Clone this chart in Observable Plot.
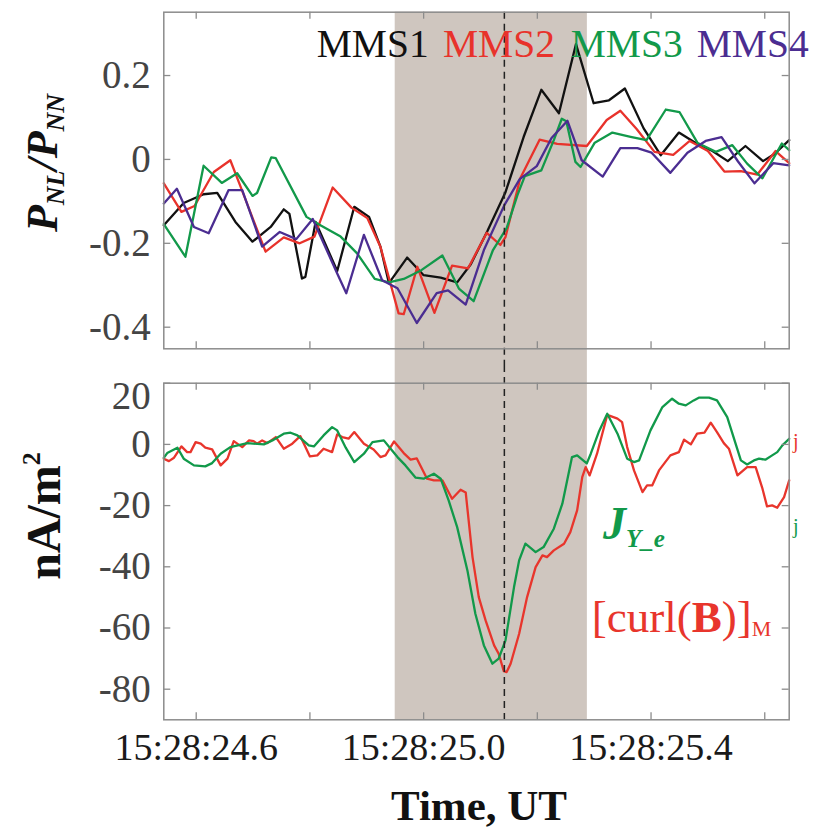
<!DOCTYPE html>
<html>
<head>
<meta charset="utf-8">
<script src="https://cdn.jsdelivr.net/npm/d3@7"></script>
<script src="https://cdn.jsdelivr.net/npm/@observablehq/plot@0.6"></script>
<style>
  body { margin: 0; background: #fff; }
  #chart { position: relative; width: 817px; height: 837px; overflow: hidden; background: #fff; }
  #chart svg { position: absolute; left: 0; }
</style>
</head>
<body>
<div id="chart"></div>
<script>
// Time axis: seconds after 15:28 UT
const X_DOMAIN = [24.543, 25.643];
const xTicks = [24.6, 24.8, 25.0, 25.2, 25.4, 25.6];
const xLabels = [24.6, 25.0, 25.4];
const shadeSpan = [24.950, 25.288];
const tRef = 25.142;

// Upper panel: P_NL / P_NN for the four spacecraft, [t, value]
const P_DOMAIN = [-0.4515, 0.351];
const pTicks = [0.2, 0, -0.2, -0.4];
const mms1 = [[24.543,-0.157],[24.578,-0.104],[24.613,-0.083],[24.637,-0.080],[24.669,-0.149],[24.699,-0.196],[24.731,-0.161],[24.754,-0.119],[24.764,-0.130],[24.786,-0.284],[24.792,-0.280],[24.810,-0.149],[24.848,-0.266],[24.878,-0.113],[24.904,-0.137],[24.924,-0.208],[24.939,-0.295],[24.971,-0.234],[25.000,-0.276],[25.030,-0.282],[25.059,-0.293],[25.083,-0.250],[25.112,-0.171],[25.144,-0.078],[25.176,0.054],[25.207,0.166],[25.238,0.110],[25.268,0.275],[25.299,0.134],[25.326,0.141],[25.354,0.169],[25.387,0.074],[25.417,0.010],[25.449,0.064],[25.475,0.042],[25.508,0.020],[25.535,-0.004],[25.566,0.032],[25.597,-0.004],[25.617,0.013],[25.643,0.046]];
const mms2 = [[24.543,-0.057],[24.574,-0.125],[24.597,-0.111],[24.631,-0.030],[24.660,-0.002],[24.678,-0.065],[24.722,-0.220],[24.754,-0.186],[24.782,-0.200],[24.808,-0.184],[24.840,-0.067],[24.873,-0.115],[24.901,-0.140],[24.924,-0.208],[24.956,-0.367],[24.965,-0.369],[24.989,-0.256],[25.019,-0.366],[25.050,-0.253],[25.078,-0.260],[25.111,-0.175],[25.135,-0.204],[25.144,-0.185],[25.170,-0.045],[25.204,0.047],[25.235,0.037],[25.287,0.032],[25.322,0.094],[25.346,0.116],[25.375,0.072],[25.406,0.018],[25.439,0.011],[25.468,0.044],[25.500,0.020],[25.529,-0.029],[25.558,-0.028],[25.587,-0.036],[25.619,0.020],[25.643,-0.009]];
const mms3 = [[24.543,-0.154],[24.581,-0.232],[24.613,-0.015],[24.645,-0.056],[24.672,-0.033],[24.699,-0.087],[24.707,-0.080],[24.732,0.005],[24.740,0.003],[24.794,-0.137],[24.820,-0.158],[24.854,-0.184],[24.883,-0.224],[24.914,-0.285],[24.939,-0.293],[24.965,-0.285],[24.996,-0.264],[25.033,-0.229],[25.062,-0.308],[25.088,-0.338],[25.122,-0.216],[25.146,-0.164],[25.165,-0.085],[25.178,-0.040],[25.207,-0.026],[25.229,0.046],[25.243,0.097],[25.251,0.091],[25.267,-0.006],[25.276,-0.018],[25.301,0.040],[25.332,0.064],[25.364,0.054],[25.392,0.046],[25.426,0.119],[25.450,0.113],[25.482,0.039],[25.514,0.018],[25.543,0.034],[25.569,-0.010],[25.596,-0.045],[25.630,0.038],[25.643,0.022]];
const mms4 = [[24.543,-0.105],[24.566,-0.070],[24.596,-0.161],[24.622,-0.176],[24.657,-0.073],[24.681,-0.073],[24.716,-0.208],[24.747,-0.173],[24.776,-0.190],[24.805,-0.142],[24.848,-0.272],[24.864,-0.319],[24.895,-0.180],[24.901,-0.200],[24.927,-0.288],[24.954,-0.307],[24.988,-0.390],[25.023,-0.319],[25.043,-0.312],[25.074,-0.346],[25.106,-0.216],[25.142,-0.109],[25.169,-0.047],[25.199,-0.016],[25.225,0.051],[25.253,0.092],[25.278,-0.002],[25.315,-0.041],[25.346,0.027],[25.376,0.027],[25.401,0.016],[25.434,-0.032],[25.464,0.016],[25.496,0.044],[25.524,0.053],[25.553,-0.005],[25.582,-0.057],[25.615,-0.009],[25.643,-0.014]];

// Lower panel: current density in nA/m^2, [t, value]
const J_DOMAIN = [-90, 20];
const jTicks = [20, 0, -20, -40, -60, -80];
const curlB = [[24.543,-4.67],[24.552,-5.46],[24.561,-4.35],[24.574,-0.65],[24.584,-2.52],[24.590,-2.52],[24.599,0.75],[24.608,0.23],[24.616,-1.08],[24.628,-1.63],[24.643,-6.86],[24.655,-4.67],[24.666,1.08],[24.681,-0.88],[24.693,1.31],[24.701,1.08],[24.707,0.23],[24.716,1.31],[24.725,0.42],[24.740,2.39],[24.754,-1.41],[24.769,0.23],[24.783,2.71],[24.800,-3.92],[24.813,-3.59],[24.824,-1.41],[24.839,-2.52],[24.848,3.27],[24.857,2.39],[24.868,1.86],[24.878,4.02],[24.895,0.23],[24.912,-1.63],[24.924,-4.15],[24.933,-3.59],[24.948,0.98],[24.965,-2.84],[24.977,-5.00],[24.988,-4.58],[25.006,-11.21],[25.018,-11.76],[25.033,-11.76],[25.050,-17.75],[25.065,-14.80],[25.074,-15.69],[25.086,-36.83],[25.097,-49.90],[25.109,-57.52],[25.124,-65.69],[25.132,-68.40],[25.141,-74.09],[25.146,-74.41],[25.153,-71.67],[25.168,-61.86],[25.182,-49.90],[25.197,-40.10],[25.209,-36.27],[25.217,-36.83],[25.229,-34.64],[25.247,-32.45],[25.258,-28.66],[25.270,-21.57],[25.279,-10.69],[25.285,-7.42],[25.292,-10.13],[25.305,-3.04],[25.323,9.64],[25.341,8.40],[25.349,7.29],[25.358,-0.88],[25.370,-8.50],[25.385,-15.59],[25.393,-13.40],[25.402,-13.40],[25.414,-8.50],[25.434,-3.59],[25.449,-2.52],[25.458,1.54],[25.470,0],[25.481,3.50],[25.494,3.82],[25.505,7.09],[25.516,4.02],[25.528,0.42],[25.537,-1.41],[25.552,-10.13],[25.569,-7.42],[25.584,-7.42],[25.596,-14.48],[25.604,-20.26],[25.613,-19.93],[25.622,-20.69],[25.634,-17.22],[25.643,-11.76]];
const jYe = [[24.543,-4.35],[24.549,-2.84],[24.567,-1.08],[24.578,-4.67],[24.596,-6.86],[24.616,-7.19],[24.628,-6.11],[24.643,-3.04],[24.660,-0.88],[24.690,0.42],[24.719,0],[24.734,1.31],[24.754,3.50],[24.766,3.82],[24.778,2.94],[24.798,-0.33],[24.807,-0.65],[24.824,2.94],[24.839,5.65],[24.848,4.58],[24.863,-1.08],[24.878,-5.78],[24.895,-3.04],[24.910,0.75],[24.930,1.31],[24.942,-1.41],[24.954,-4.15],[24.968,-6.86],[24.986,-10.88],[25.000,-11.21],[25.018,-9.58],[25.030,-11.21],[25.044,-18.30],[25.059,-27.03],[25.077,-41.18],[25.091,-55.33],[25.106,-65.69],[25.121,-71.67],[25.132,-70.03],[25.144,-64.05],[25.159,-46.63],[25.168,-37.91],[25.179,-32.45],[25.197,-35.20],[25.211,-33.56],[25.229,-27.55],[25.244,-19.38],[25.261,-4.15],[25.270,-3.59],[25.287,-6.21],[25.294,-3.04],[25.308,4.02],[25.323,10.03],[25.341,3.50],[25.358,-4.67],[25.370,-5.78],[25.379,-5.23],[25.399,4.58],[25.420,12.19],[25.437,14.93],[25.449,13.30],[25.461,12.75],[25.475,14.38],[25.484,15.26],[25.502,15.26],[25.516,14.38],[25.534,8.92],[25.558,-5.23],[25.569,-6.54],[25.581,-5.23],[25.590,-4.67],[25.601,-5.00],[25.613,-3.59],[25.622,-2.52],[25.631,-0.33],[25.643,1.86]];

const legendNames = ["MMS1", "MMS2", "MMS3", "MMS4"];
const scColors = ["#111111", "#e8322b", "#12994a", "#4b2d91"];

// Layout
const W = 817, ML = 163.3, MR = 28.3;
const TOP_H = 365, TOP_MT = 11.7, TOP_MB = 16.7;
const BOT_H = 472, BOT_MT = 17.7, BOT_MB = 117.7;
const PLOT_H = TOP_H - TOP_MT - TOP_MB;
const PLOT_W = W - ML - MR;
const TICK = 7;
const FRAME = "#8c8c8c";
const SHADE = "#cfc6bf";
const RED = "#e8352c", GREEN = "#11994a";
const LW = 2.3;
const serif = "'Liberation Serif', 'Times New Roman', serif";

const fmtP = d => d === 0 ? "0" : d.toFixed(1);
const fmtJ = d => String(d);
const fmtT = d => "15:28:" + d.toFixed(1);

function frameAndTicks(yTicks) {
  return [
    Plot.ruleX(xTicks, {stroke: FRAME, strokeWidth: 1.3, insetTop: PLOT_H - TICK}),
    Plot.ruleX(xTicks, {stroke: FRAME, strokeWidth: 1.3, insetBottom: PLOT_H - TICK}),
    Plot.ruleY(yTicks, {stroke: FRAME, strokeWidth: 1.3, insetRight: PLOT_W - TICK}),
    Plot.ruleY(yTicks, {stroke: FRAME, strokeWidth: 1.3, insetLeft: PLOT_W - TICK}),
    Plot.frame({stroke: FRAME, strokeWidth: 1.5})
  ];
}

const series = [mms1, mms2, mms3, mms4];

const topPlot = Plot.plot({
  width: W, height: TOP_H,
  marginLeft: ML, marginRight: MR, marginTop: TOP_MT, marginBottom: TOP_MB,
  style: {fontFamily: serif, background: "transparent", overflow: "visible"},
  x: {domain: X_DOMAIN, axis: null},
  y: {domain: P_DOMAIN},
  marks: [
    Plot.rect([shadeSpan], {x1: d => d[0], x2: d => d[1], fill: SHADE, insetBottom: -TOP_MB}),
    ...series.map((s, i) => Plot.line(s, {x: d => d[0], y: d => d[1], stroke: scColors[i], strokeWidth: LW})),
    Plot.ruleX([tRef], {stroke: "#222", strokeWidth: 1.5, strokeDasharray: "7,5", insetBottom: -TOP_MB}),
    ...frameAndTicks(pTicks),
    Plot.axisY({ticks: pTicks, tickSize: 0, tickPadding: 13, fontSize: 39, color: "#444", tickFormat: fmtP, label: null})
  ]
});

const botPlot = Plot.plot({
  width: W, height: BOT_H,
  marginLeft: ML, marginRight: MR, marginTop: BOT_MT, marginBottom: BOT_MB,
  style: {fontFamily: serif, background: "transparent", overflow: "visible"},
  x: {domain: X_DOMAIN},
  y: {domain: J_DOMAIN},
  marks: [
    Plot.rect([shadeSpan], {x1: d => d[0], x2: d => d[1], fill: SHADE, insetTop: -BOT_MT}),
    Plot.line(curlB, {x: d => d[0], y: d => d[1], stroke: RED, strokeWidth: LW}),
    Plot.line(jYe, {x: d => d[0], y: d => d[1], stroke: GREEN, strokeWidth: LW}),
    Plot.ruleX([tRef], {stroke: "#222", strokeWidth: 1.5, strokeDasharray: "7,5", insetTop: -BOT_MT}),
    ...frameAndTicks(jTicks),
    Plot.axisY({ticks: jTicks.filter(d => d !== 20), tickSize: 0, tickPadding: 13, fontSize: 39, color: "#444", tickFormat: fmtJ, label: null}),
    Plot.axisY({ticks: [20], tickSize: 0, tickPadding: 13, dy: 13, fontSize: 39, color: "#444", tickFormat: fmtJ, label: null}),
    Plot.axisX({ticks: xLabels, tickSize: 0, tickPadding: 13, fontSize: 38, color: "#1a1a1a", tickFormat: fmtT, label: null})
  ]
});

const chart = document.getElementById("chart");
topPlot.style.top = "0px";
botPlot.style.top = TOP_H + "px";
chart.appendChild(topPlot);
chart.appendChild(botPlot);

// Upper panel annotations
const ts = d3.select(topPlot);
const legendX = [316.7, 443, 570.7, 696.7];
legendNames.forEach((name, i) => {
  ts.append("text")
    .attr("x", legendX[i]).attr("y", 56.7)
    .attr("text-anchor", "start")
    .attr("font-family", serif).attr("font-size", 39.5)
    .attr("fill", scColors[i]).text(name);
});

const pTitle = ts.append("text")
  .attr("transform", "translate(57,163) rotate(-90)")
  .attr("text-anchor", "middle")
  .attr("font-family", serif).attr("font-weight", "bold").attr("font-style", "italic")
  .attr("fill", "#111");
pTitle.append("tspan").attr("font-size", 44).text("P");
pTitle.append("tspan").attr("font-size", 26).attr("dy", 7).text("NL");
pTitle.append("tspan").attr("font-size", 44).attr("dy", -7).text("/P");
pTitle.append("tspan").attr("font-size", 26).attr("dy", 7).text("NN");

// Lower panel annotations
const bs = d3.select(botPlot);
const jTitle = bs.append("text")
  .attr("transform", "translate(60,151) rotate(-90)")
  .attr("text-anchor", "middle")
  .attr("font-family", serif).attr("font-weight", "bold")
  .attr("fill", "#111");
jTitle.append("tspan").attr("font-size", 48).text("nA/m");
jTitle.append("tspan").attr("font-size", 26).attr("dy", -20).text("2");

const jLabel = bs.append("text")
  .attr("x", 603).attr("y", 174)
  .attr("text-anchor", "start")
  .attr("font-family", serif).attr("font-weight", "bold").attr("font-style", "italic")
  .attr("fill", GREEN);
jLabel.append("tspan").attr("font-size", 46).text("J");
jLabel.append("tspan").attr("font-size", 25).attr("dy", 8).text("Y_e");

const cLabel = bs.append("text")
  .attr("x", 591.7).attr("y", 266.7)
  .attr("text-anchor", "start")
  .attr("font-family", serif).attr("font-size", 45)
  .attr("fill", RED);
cLabel.append("tspan").text("[curl(");
cLabel.append("tspan").attr("font-weight", "bold").text("B");
cLabel.append("tspan").text(")]");
cLabel.append("tspan").attr("font-size", 22).attr("dy", 4).text("M");

bs.append("text").attr("x", 793).attr("y", 82.7)
  .attr("text-anchor", "start")
  .attr("font-family", serif).attr("font-size", 20).attr("fill", RED).text("j");
bs.append("text").attr("x", 793).attr("y", 167.7)
  .attr("text-anchor", "start")
  .attr("font-family", serif).attr("font-size", 20).attr("fill", GREEN).text("j");

bs.append("text")
  .attr("x", 479).attr("y", 455)
  .attr("text-anchor", "middle")
  .attr("font-family", serif).attr("font-size", 43).attr("font-weight", "bold")
  .attr("fill", "#111").text("Time, UT");
</script>
</body>
</html>
